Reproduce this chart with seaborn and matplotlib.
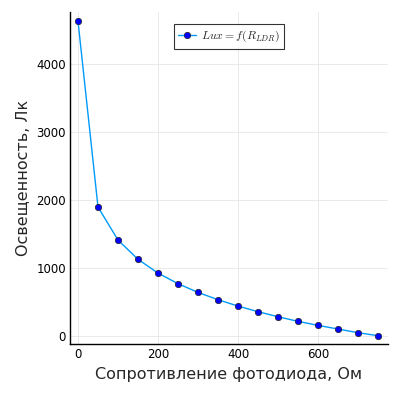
import matplotlib
matplotlib.use("Agg")
import matplotlib.pyplot as plt
import seaborn as sns
import pandas as pd

resistance = [0, 50, 100, 150, 200, 250, 300, 350, 400, 450, 500, 550, 600, 650, 700, 750]
lux = [4630, 1897, 1412, 1128, 926, 770, 642, 534, 441, 358, 284, 216, 157, 103, 49, 5]

df = pd.DataFrame({"R": resistance, "Lux": lux})

sns.set_style("white")
plt.rcParams['font.family'] = ['DejaVu Sans']
plt.rcParams['mathtext.fontset'] = 'cm'

fig = plt.figure(figsize=(3.99, 4.0), dpi=100)
ax = fig.add_axes([70/399, 56/400, 318/399, 332/400])

sns.lineplot(data=df, x="R", y="Lux", ax=ax, color="#009AFA", linewidth=1.0,
             marker="o", markersize=4.6, markerfacecolor="#0000FF",
             markeredgecolor="#222222", markeredgewidth=0.5,
             label=r"$Lux = f(R_{LDR})$")

ax.set_xlim(-20, 775)
ax.set_ylim(-117, 4765)
ax.set_xticks([0, 200, 400, 600])
ax.set_yticks([0, 1000, 2000, 3000, 4000])
ax.grid(True, color="#e6e6e6", linewidth=0.6)
ax.tick_params(direction="in", length=4, width=0.8, labelsize=8.5, colors="black", pad=3)
for s in ["top", "right"]:
    ax.spines[s].set_visible(False)
for s in ["left", "bottom"]:
    ax.spines[s].set_color("black")
    ax.spines[s].set_linewidth(1.0)

ax.set_xlabel("Сопротивление фотодиода, Ом", fontsize=11.5)
ax.set_ylabel("Освещенность, Лк", fontsize=11.5)

leg = ax.legend(loc="upper center", bbox_to_anchor=(0.5, 0.97), fontsize=8.5,
                frameon=True, fancybox=False, edgecolor="black", handlelength=1.5,
                handletextpad=0.4, borderpad=0.4, borderaxespad=0.2)
leg.get_frame().set_linewidth(0.8)

fig.savefig("out.png", dpi=100)
